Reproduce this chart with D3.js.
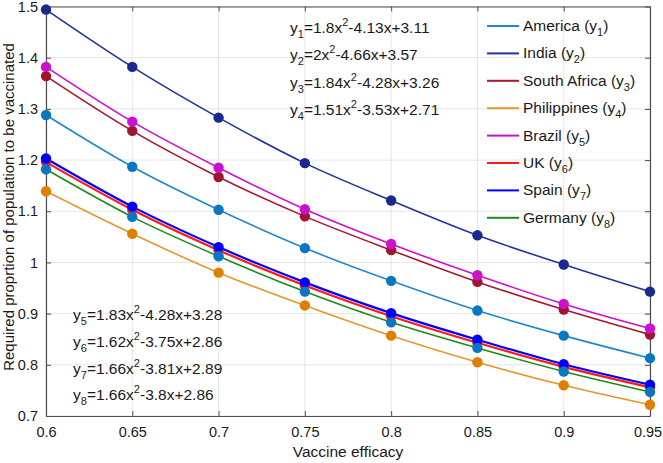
<!DOCTYPE html>
<html><head><meta charset="utf-8">
<script src="https://cdn.jsdelivr.net/npm/d3@7"></script>
<style>
html,body{margin:0;padding:0;background:#fff;}
svg text{font-family:"Liberation Sans",Arial,Helvetica,sans-serif;fill:#1a1a1a;}
</style></head>
<body><svg id="c" width="663" height="463"></svg>
<script>
const efficacy = [0.6, 0.65, 0.7, 0.75, 0.8, 0.85, 0.9, 0.95];
const countries = ["America","India","South Africa","Philippines","Brazil","UK","Spain","Germany"];
const america     = [1.288, 1.187, 1.103, 1.028, 0.964, 0.906, 0.857, 0.813];
const india       = [1.494, 1.382, 1.283, 1.194, 1.121, 1.053, 0.996, 0.943];
const southAfrica = [1.364, 1.257, 1.167, 1.090, 1.024, 0.962, 0.908, 0.859];
const philippines = [1.139, 1.056, 0.980, 0.916, 0.857, 0.805, 0.760, 0.722];
const brazil      = [1.382, 1.275, 1.185, 1.104, 1.036, 0.975, 0.919, 0.871];
const uk          = [1.196, 1.103, 1.024, 0.955, 0.895, 0.843, 0.796, 0.756];
const spain       = [1.203, 1.109, 1.030, 0.961, 0.901, 0.849, 0.801, 0.761];
const germany     = [1.182, 1.089, 1.012, 0.943, 0.883, 0.833, 0.787, 0.747];
const seriesValues = [america, india, southAfrica, philippines, brazil, uk, spain, germany];
const lineColors = ["#1f88cc","#22339c","#a8172f","#e8962c","#cc11cc","#ff1a1a","#0000ff","#1a8c1a"];
const dotColors  = ["#0b77c0","#1a2a8c","#a01530","#dd8000","#cc11cc","#ff1a1a","#0000ff","#0b77c0"];
const lineWidths = [1.6,1.6,1.6,1.6,1.6,2.2,2.2,1.6];
const xTicks = [0.6, 0.65, 0.7, 0.75, 0.8, 0.85, 0.9, 0.95];
const yTicks = [0.7, 0.8, 0.9, 1, 1.1, 1.2, 1.3, 1.4, 1.5];
// equation texts: [subscript, coefficient a, rest]
const eqTop = [["1","1.8","-4.13x+3.11"],["2","2","-4.66x+3.57"],["3","1.84","-4.28x+3.26"],["4","1.51","-3.53x+2.71"]];
const eqBottom = [["5","1.83","-4.28x+3.28"],["6","1.62","-3.75x+2.86"],["7","1.66","-3.81x+2.89"],["8","1.66","-3.8x+2.86"]];

const svg = d3.select("#c");
const L=46, R=650, T=6.5, B=416;
const FS = "15.5px", SUB = "11px", TICKFS = "14.5px";
const x = d3.scaleLinear().domain([0.6,0.95]).range([L,R]);
const y = d3.scaleLinear().domain([0.7,1.5]).range([B,T]);

// grid
const g = svg.append("g");
g.selectAll(".gx").data(xTicks).join("line").attr("x1",d=>x(d)).attr("x2",d=>x(d)).attr("y1",T).attr("y2",B).attr("stroke","#e6e6e6").attr("stroke-width",1);
g.selectAll(".gy").data(yTicks).join("line").attr("y1",d=>y(d)).attr("y2",d=>y(d)).attr("x1",L).attr("x2",R).attr("stroke","#e6e6e6").attr("stroke-width",1);

// axes
const fmt = d=>String(d);
function styleAxis(sel){sel.select(".domain").attr("stroke","#4d4d4d");sel.selectAll(".tick line").attr("stroke","#4d4d4d");sel.selectAll("text").style("font-size",TICKFS).attr("fill","#1a1a1a");}
const xb = svg.append("g").attr("transform",`translate(0,${B})`).call(d3.axisBottom(x).tickValues(xTicks).tickFormat(fmt).tickSizeInner(-5).tickSizeOuter(0).tickPadding(11)).call(styleAxis);
xb.selectAll(".tick text").filter(d=>d===xTicks[xTicks.length-1]).attr("dx",-2.5);
svg.append("g").attr("transform",`translate(0,${T})`).call(d3.axisTop(x).tickValues(xTicks).tickFormat("").tickSizeInner(-5).tickSizeOuter(0)).call(styleAxis);
svg.append("g").attr("transform",`translate(${L},0)`).call(d3.axisLeft(y).tickValues(yTicks).tickFormat(fmt).tickSizeInner(-5).tickSizeOuter(0).tickPadding(8)).call(styleAxis);
svg.append("g").attr("transform",`translate(${R},0)`).call(d3.axisRight(y).tickValues(yTicks).tickFormat("").tickSizeInner(-5).tickSizeOuter(0)).call(styleAxis);
svg.selectAll(".domain").attr("stroke-width",1.2);

// lines
const line = d3.line().x((d,i)=>x(efficacy[i])).y(d=>y(d)).curve(d3.curveMonotoneX);
const plot = svg.append("g");
seriesValues.forEach((vals,k)=>{
  plot.append("path").attr("d",line(vals)).attr("fill","none").attr("stroke",lineColors[k]).attr("stroke-width",lineWidths[k]);
});
seriesValues.forEach((vals,k)=>{
  plot.selectAll(null).data(vals).join("circle").attr("cx",(d,i)=>x(efficacy[i])).attr("cy",d=>y(d)).attr("r",5.2).attr("fill",dotColors[k]);
});

// equations
function eq(gx, gy, e){
  const t = svg.append("text").attr("x",gx).attr("y",gy).style("font-size",FS);
  t.append("tspan").text("y");
  t.append("tspan").attr("dy",5).style("font-size",SUB).text(e[0]);
  t.append("tspan").attr("dy",-5).text("="+e[1]+"x");
  t.append("tspan").attr("dy",-7).style("font-size",SUB).text("2");
  t.append("tspan").attr("dy",7).text(e[2]);
}
eqTop.forEach((e,i)=>eq(290, 33+i*27.3, e));
eqBottom.forEach((e,i)=>eq(73, 320+i*26.8, e));

// legend
countries.forEach((c,i)=>{
  const ly = 26+i*27.4;
  svg.append("line").attr("x1",487).attr("x2",519).attr("y1",ly).attr("y2",ly).attr("stroke",lineColors[i]).attr("stroke-width",2);
  const t = svg.append("text").attr("x",523).attr("y",ly+5).style("font-size",FS);
  t.append("tspan").text(c+" (y");
  t.append("tspan").attr("dy",5).style("font-size",SUB).text(String(i+1));
  t.append("tspan").attr("dy",-5).text(")");
});

// axis labels
svg.append("text").attr("x",(L+R)/2).attr("y",457).attr("text-anchor","middle").style("font-size",FS).text("Vaccine efficacy");
svg.append("text").attr("transform","translate(13.5,207) rotate(-90)").attr("text-anchor","middle").style("font-size","15px").text("Required proprtion of population to be vaccinated");
</script></body></html>
